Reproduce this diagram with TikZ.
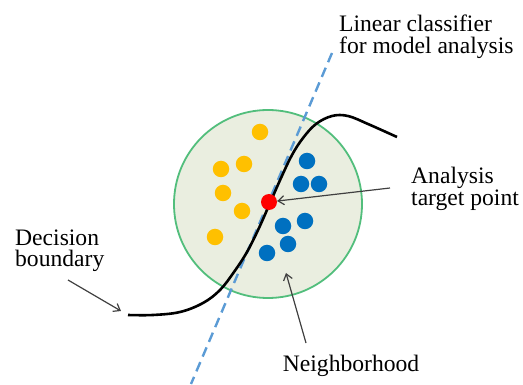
\documentclass[tikz,border=0pt]{standalone}
\usepackage{fontspec}
\setmainfont{Liberation Serif}
\usetikzlibrary{arrows.meta,positioning,calc}
\definecolor{nbfill}{RGB}{234,238,224}
\definecolor{nbedge}{RGB}{82,190,124}
\definecolor{clsblue}{RGB}{91,155,213}
\definecolor{ptyellow}{RGB}{255,192,0}
\definecolor{ptblue}{RGB}{0,112,192}

\begin{document}
\begin{tikzpicture}[
    x=1pt, y=-1pt,
    lbl/.style={anchor=base west, align=left, inner sep=0pt,
                font=\fontsize{23.6}{21.6}\selectfont},
    dot/.style={circle, inner sep=0pt, minimum size=16.5pt},
    ydot/.style={dot, fill=ptyellow},
    bdot/.style={dot, fill=ptblue},
    arr/.style={-{Straight Barb[length=6pt,width=9pt]}, line width=1.2pt,
                black!75},
  ]
    \useasboundingbox (0,0) rectangle (523,385);

    % ---- Neighborhood and linear classifier ----
    \node[circle, draw=nbedge, fill=nbfill, line width=1.8pt,
          minimum size=188pt, inner sep=0pt] (nb) at (268,204) {};
    \coordinate (clsT) at (332,53);
    \coordinate (clsB) at (191,384);
    \draw[clsblue, line width=2.4pt, dash pattern=on 10pt off 6pt] (clsT) -- (clsB);

    % ---- Sample points ----
    \foreach \px/\py [count=\i] in {260/132, 221/169, 244/164, 223/193, 242/211, 215/237}
      \node[ydot] (y\i) at (\px,\py) {};
    \foreach \px/\py [count=\i] in {307/161, 301/184, 319/184, 305/221, 283/226, 288/244, 267/253}
      \node[bdot] (b\i) at (\px,\py) {};

    % ---- Decision boundary ----
    \draw[line width=2.6pt, black] plot[smooth, tension=0.6] coordinates
      {(128,315) (153,315) (180,312) (203,303) (220,290) (234,272)
       (247,252) (259,228) (270,203) (281,178) (292,155) (303,138)
       (316,124) (332,116) (348,116) (368,124) (397,137)};
    \node[circle, fill=red, inner sep=0pt, minimum size=16pt] (tgt) at (269,202) {};

    % ---- Labels ----
    \node[lbl] (lincls) at (339,53.3) {Linear classifier\\for model analysis};
    \node[lbl] (target) at (411,205.5) {Analysis\\target point};
    \node[lbl] (decb)   at (15,266.7) {Decision\\boundary};
    \node[lbl] (nbh)    at (282.7,371.7) {Neighborhood};

    % ---- Pointer arrows ----
    \coordinate (tgtS) at (390,188);
    \coordinate (decS) at (68,280);
    \coordinate (decE) at (121,311);
    \coordinate (nbhS) at (306,343);
    \coordinate (nbhE) at (286,273);
    \draw[arr] (tgtS) -- (tgt);
    \draw[arr] (decS) -- (decE);
    \draw[arr] (nbhS) -- (nbhE);
  \end{tikzpicture}
\end{document}
